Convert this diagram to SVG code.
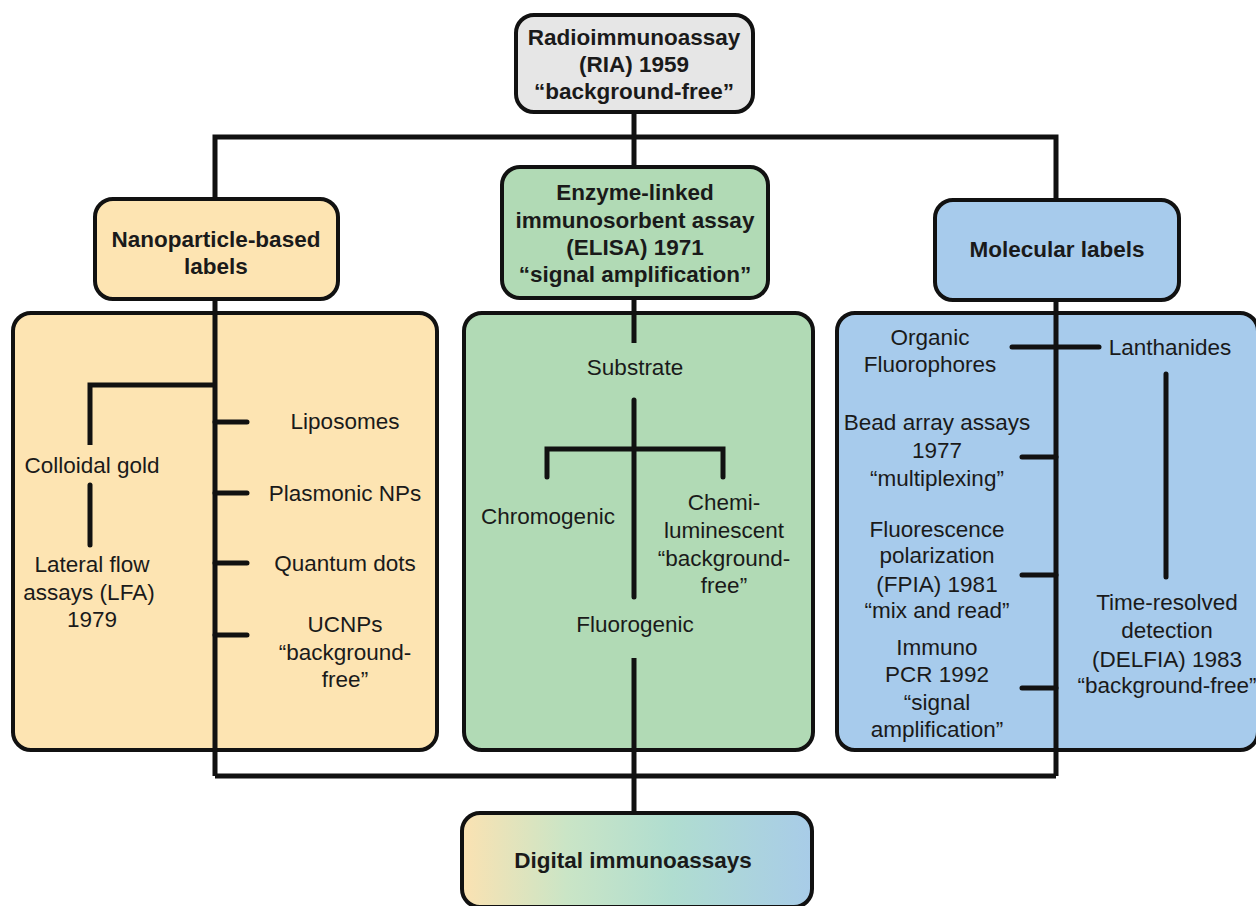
<svg xmlns="http://www.w3.org/2000/svg" width="1256" height="906" viewBox="0 0 1256 906">
<style>
.box{stroke:#111;stroke-width:4;}
.ln{stroke:#111;stroke-width:5;fill:none;stroke-linecap:round;}
.sq{stroke:#111;stroke-width:5;fill:none;stroke-linecap:butt;stroke-linejoin:miter;}
text{font-family:"Liberation Sans",Arial,sans-serif;font-size:22.5px;fill:#1a1a1a;text-anchor:middle;}
.b{font-weight:bold;}
</style>
<defs>
<linearGradient id="dg" x1="0" y1="0" x2="1" y2="0">
<stop offset="0" stop-color="#fbe2b2"/>
<stop offset="0.3" stop-color="#cae5c6"/>
<stop offset="0.6" stop-color="#b0ddd0"/>
<stop offset="1" stop-color="#a8cce8"/>
</linearGradient>
</defs>
<rect width="1256" height="906" fill="#fff"/>
<g id="connectors-back">
<path class="sq" d="M215 200 V137 H1056 V200"/>
<path class="sq" d="M634 112 V168"/>
<path class="sq" d="M215 776 H1056"/>
<path class="sq" d="M634 776 V813"/>
</g>
<g id="big-boxes">
<rect id="nano-panel" class="box" x="13" y="313" width="424" height="437" rx="18" fill="#fde4b2"/>
<rect id="elisa-panel" class="box" x="464" y="313" width="349" height="437" rx="18" fill="#b1dab5"/>
<rect id="mol-panel" class="box" x="837" y="313" width="421" height="437" rx="18" fill="#a7cbec"/>
</g>
<g id="connectors">
<path class="sq" d="M215 299 V776"/>
<path class="sq" d="M215 385 H90 V445"/>
<path class="ln" d="M90 485 V545"/>
<path class="ln" d="M215 422 H247 M215 493 H247 M215 563 H247 M215 635 H247"/>
<path class="sq" d="M634 298 V343"/>
<path class="ln" d="M634 400 V597"/>
<path class="ln" d="M547 477 V449 H723 V477"/>
<path class="sq" d="M634 658 V776"/>
<path class="sq" d="M1056 300 V776"/>
<path class="ln" d="M1012 347 H1099"/>
<path class="ln" d="M1166 374 V577"/>
<path class="ln" d="M1056 457 H1022 M1056 575 H1022 M1056 688 H1022"/>
</g>
<g id="ria">
<rect class="box" x="516" y="15" width="237" height="97" rx="18" fill="#e6e6e6"/>
<text class="b" x="634" y="45">Radioimmunoassay</text>
<text class="b" x="634" y="72">(RIA) 1959</text>
<text class="b" x="634" y="99">“background-free”</text>
</g>
<g id="nano">
<rect class="box" x="95" y="199" width="243" height="100" rx="18" fill="#fde4b2"/>
<text class="b" x="216" y="247">Nanoparticle-based</text>
<text class="b" x="216" y="274">labels</text>
</g>
<g id="elisa">
<rect class="box" x="502" y="167" width="266" height="131" rx="18" fill="#b1dab5"/>
<text class="b" x="635" y="200">Enzyme-linked</text>
<text class="b" x="635" y="228">immunosorbent assay</text>
<text class="b" x="635" y="255">(ELISA) 1971</text>
<text class="b" x="635" y="282">“signal amplification”</text>
</g>
<g id="molecular">
<rect class="box" x="935" y="200" width="244" height="100" rx="18" fill="#a7cbec"/>
<text class="b" x="1057" y="257">Molecular labels</text>
</g>
<g id="digital">
<rect class="box" x="462" y="813" width="350" height="94" rx="18" fill="url(#dg)"/>
<text class="b" x="633" y="868">Digital immunoassays</text>
</g>
<g id="nano-items">
<text x="92" y="473">Colloidal gold</text>
<text x="92" y="572">Lateral flow</text>
<text x="89" y="600">assays (LFA)</text>
<text x="92" y="627">1979</text>
<text x="345" y="429">Liposomes</text>
<text x="345" y="501">Plasmonic NPs</text>
<text x="345" y="571">Quantum dots</text>
<text x="345" y="632">UCNPs</text>
<text x="345" y="660">“background-</text>
<text x="345" y="687">free”</text>
</g>
<g id="elisa-items">
<text x="635" y="375">Substrate</text>
<text x="548" y="524">Chromogenic</text>
<text x="724" y="510">Chemi-</text>
<text x="724" y="538">luminescent</text>
<text x="724" y="566">“background-</text>
<text x="724" y="593">free”</text>
<text x="635" y="632">Fluorogenic</text>
</g>
<g id="mol-items">
<text x="930" y="345">Organic</text>
<text x="930" y="372">Fluorophores</text>
<text x="1170" y="355">Lanthanides</text>
<text x="937" y="430">Bead array assays</text>
<text x="937" y="458">1977</text>
<text x="937" y="486">“multiplexing”</text>
<text x="937" y="537">Fluorescence</text>
<text x="937" y="563">polarization</text>
<text x="937" y="592">(FPIA) 1981</text>
<text x="937" y="618">“mix and read”</text>
<text x="937" y="655">Immuno</text>
<text x="937" y="682">PCR 1992</text>
<text x="937" y="710">“signal</text>
<text x="937" y="737">amplification”</text>
<text x="1167" y="610">Time-resolved</text>
<text x="1167" y="638">detection</text>
<text x="1167" y="667">(DELFIA) 1983</text>
<text x="1167" y="693">“background-free”</text>
</g>
</svg>
